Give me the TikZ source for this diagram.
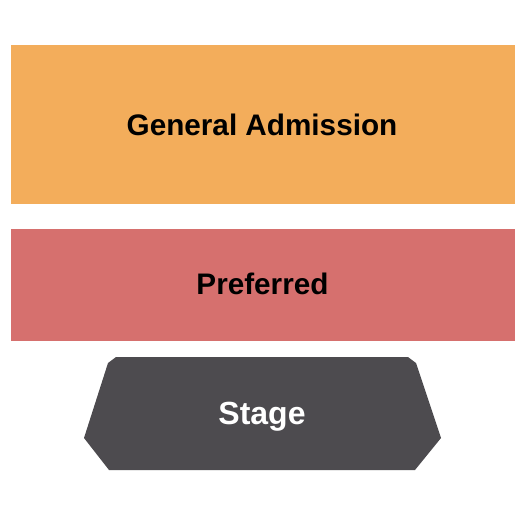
\documentclass[tikz,border=0pt]{standalone}
\usepackage{fontspec}
\setmainfont{Liberation Sans}
\definecolor{gaorange}{HTML}{F3AD5B}
\definecolor{prefred}{HTML}{D6706E}
\definecolor{stagegray}{HTML}{4D4B4F}
\begin{document}
\begin{tikzpicture}[x=1pt,y=-1pt,
  lbl/.style={anchor=base,inner sep=0pt,font=\fontsize{29.7}{30}\selectfont\bfseries}]
\useasboundingbox (0,0) rectangle (525,525);
\fill[white] (0,0) rectangle (525,525);
\fill[gaorange] (11,45) rectangle (515,204);
\fill[prefred] (11,229) rectangle (515,341);
\fill[stagegray] (116,357) -- (408,357) -- (416,363) -- (441,438) -- (415,470)
  -- (109,470) -- (84,438) -- (108,363) -- cycle;
\node[lbl,text=black] (ga) at (262,135) {General Admission};
\node[lbl,text=black] (pref) at (262.5,294) {Preferred};
\node[lbl,text=white,font=\fontsize{32}{33}\selectfont\bfseries] (stage) at (262,424) {Stage};
\end{tikzpicture}
\end{document}
